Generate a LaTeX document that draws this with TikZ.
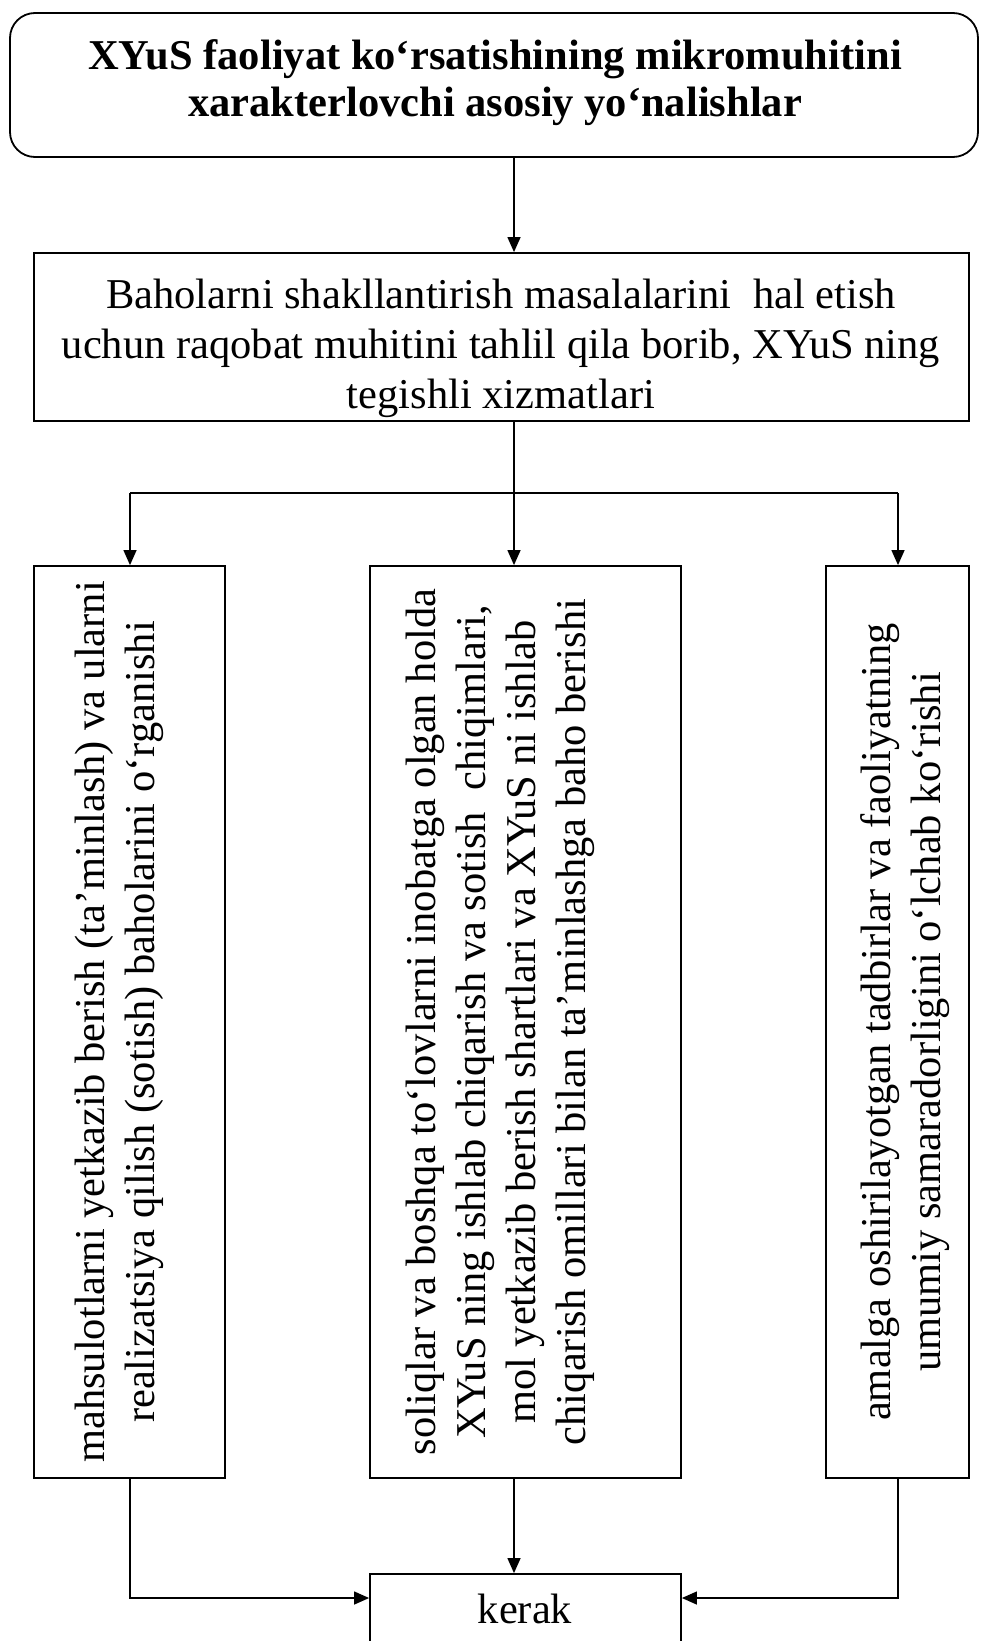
\documentclass[tikz,border=0pt]{standalone}
\usepackage{fontspec}
\setmainfont{Liberation Serif}
\usetikzlibrary{arrows.meta}
\begin{document}
\begin{tikzpicture}[x=1pt,y=-1pt,
  box/.style={draw, line width=1.8pt, inner sep=0pt},
  conn/.style={line width=1.3pt, -{Triangle[length=15pt,width=13pt]}},
  wire/.style={line width=1.3pt},
  htext/.style={font=\fontsize{42.5}{50}\selectfont, align=center, inner sep=0pt},
  vtext/.style={font=\fontsize{42.5}{50}\selectfont, align=center, inner sep=0pt, rotate=90},
]
\useasboundingbox (0,0) rectangle (981,1641);
\clip (0,0) rectangle (981,1641);
% boxes
\node[box, rounded corners=25pt, minimum width=968pt, minimum height=144pt] (top) at (494,85) {};
\node[box, minimum width=935pt, minimum height=168pt] (mid) at (501.5,337) {};
\node[box, minimum width=191pt, minimum height=912pt] (A) at (129.5,1022) {};
\node[box, minimum width=311pt, minimum height=912pt] (B) at (525.5,1022) {};
\node[box, minimum width=143pt, minimum height=912pt] (C) at (897.5,1022) {};
\node[box, minimum width=311pt, minimum height=120pt] (K) at (525.5,1634) {};
% texts
\node[htext, font=\fontsize{42.5}{47}\selectfont\bfseries] (toptext) at (495,83)
  {XYuS faoliyat ko‘rsatishining mikromuhitini\\xarakterlovchi asosiy yo‘nalishlar};
\node[htext] (midtext) at (501,348)
  {Baholarni shakllantirish masalalarini \ hal etish\\uchun raqobat muhitini tahlil qila borib, XYuS ning\\tegishli xizmatlari};
\node[vtext] (Atext) at (119,1022)
  {mahsulotlarni yetkazib berish (ta’minlash) va ularni\\realizatsiya qilish (sotish) baholarini o‘rganishi};
\node[vtext] (Btext) at (500,1022)
  {soliqlar va boshqa to‘lovlarni inobatga olgan holda\\XYuS ning ishlab chiqarish va sotish \ chiqimlari,\\mol yetkazib berish shartlari va XYuS ni ishlab\\chiqarish omillari bilan ta’minlashga baho berishi};
\node[vtext] (Ctext) at (905,1022)
  {amalga oshirilayotgan tadbirlar va faoliyatning\\umumiy samaradorligini o‘lchab ko‘rishi};
\node[htext, anchor=base] (Ktext) at (525,1623) {kerak};
% connector guides
\coordinate (jx) at (514,0);
\coordinate (ax) at (130,0);
\coordinate (cx) at (898,0);
\coordinate (split) at (514,493);
\coordinate (low) at (0,1598);
% connectors
\draw[conn] (top.south -| jx) -- (mid.north -| jx);
\draw[wire] (mid.south -| jx) -- (split);
\draw[wire] (split -| ax) -- (split -| cx);
\draw[conn] (split) -- (B.north -| jx);
\draw[conn] (split -| ax) -- (A.north -| ax);
\draw[conn] (split -| cx) -- (C.north -| cx);
\draw[conn] (A.south -| ax) -- (low -| ax) -- (K.west |- low);
\draw[conn] (C.south -| cx) -- (low -| cx) -- (K.east |- low);
\draw[conn] (B.south -| jx) -- (K.north -| jx);
\end{tikzpicture}
\end{document}
